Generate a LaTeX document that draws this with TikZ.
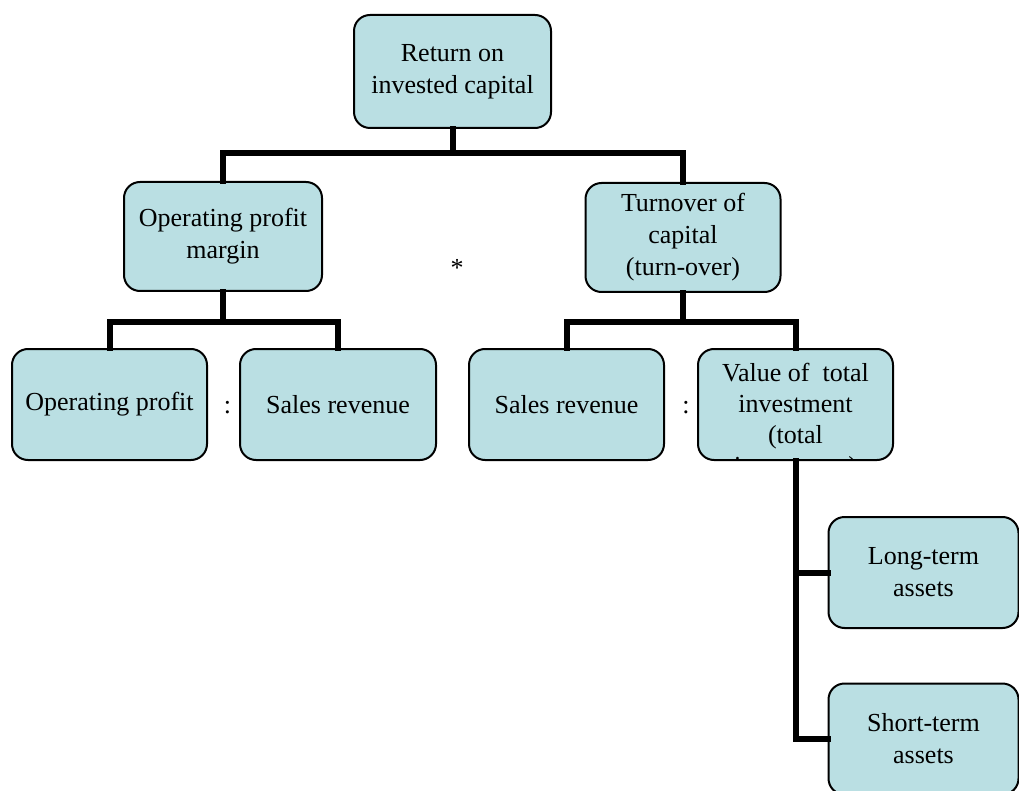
\documentclass[tikz,border=0pt]{standalone}
\usepackage{fontspec}
\setmainfont{Liberation Serif}
\definecolor{boxfill}{RGB}{186,223,227}
\begin{document}
\begin{tikzpicture}[x=1pt,y=-1pt,
  box/.style={draw=black, line width=2pt, fill=boxfill, rounded corners=16pt,
    align=center, font=\fontsize{26}{32}\selectfont, inner sep=2pt},
  conn/.style={line width=6pt, line cap=rect},
  lbl/.style={font=\fontsize{26}{31}\selectfont, inner sep=0pt}]
\useasboundingbox (0,0) rectangle (1019,791);
\clip (0,0) rectangle (1019,791);
% boxes
\node[box, minimum width=197pt, minimum height=113pt] (top) at (452.5,71.5) {Return on\\invested capital};
\node[box, minimum width=198pt, minimum height=109pt] (opm) at (223,236.5) {Operating profit\\margin};
\node[box, minimum width=195pt, minimum height=109pt] (toc) at (683,237.5) {Turnover of\\capital\\(turn-over)};
\node[box, minimum width=195pt, minimum height=111pt] (op) at (109.5,404.5) {Operating profit};
\node[box, minimum width=196pt, minimum height=111pt] (sr1) at (338,404.5) {Sales revenue};
\node[box, minimum width=195pt, minimum height=111pt] (sr2) at (566.5,404.5) {Sales revenue};
\node[box, minimum width=195pt, minimum height=111pt] (val) at (795.5,404.5) {};
\begin{scope}
  \clip[rounded corners=16pt] (699,350) rectangle (892,459);
  \node[lbl, align=center, anchor=north] (valtext) at (795.5,363) {Value of \ total\\investment\\(total\\investment)};
\end{scope}
\node[box, minimum width=190pt, minimum height=111pt] (lt) at (923.5,572.5) {Long-term\\assets};
\node[box, minimum width=190pt, minimum height=111pt] (st) at (923.5,739) {Short-term\\assets};
% operators
\node[lbl] (times) at (457,268) {*};
\node[lbl] (div1) at (227.5,408) {:};
\node[lbl] (div2) at (686,408) {:};
% connectors
\coordinate (j1) at (452.5,153);
\coordinate (j2) at (223,322);
\coordinate (j3) at (683,322);
\draw[conn] (top.south) -- (j1);
\draw[conn] (opm.north) |- (j1) -| (toc.north);
\draw[conn] (opm.south) -- (j2);
\draw[conn] (op.north) |- (j2) -| (sr1.north);
\draw[conn] (toc.south) -- (j3);
\draw[conn] (sr2.north) |- (j3) -| (val.north);
\draw[conn] (val.south) |- (st.west);
\draw[conn] (val.south |- lt.west) -- (lt.west);
\end{tikzpicture}
\end{document}
